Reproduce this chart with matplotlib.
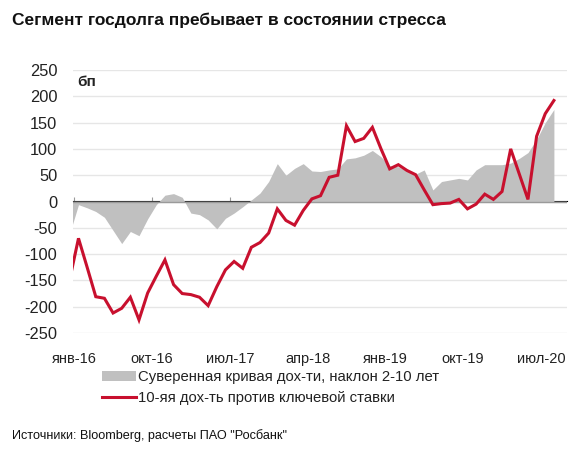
import matplotlib.pyplot as plt
import numpy as np
from matplotlib.patches import Patch
from matplotlib.lines import Line2D

plt.rcParams['font.family'] = ['Liberation Sans', 'DejaVu Sans']
plt.rcParams['axes.unicode_minus'] = False

# monthly observations, dec-15 .. aug-20 (mid-month), bp
months = np.arange(-1, 56) + 0.5

slope_2_10 = [-60, -6, -12, -19, -30, -55, -80, -57, -65, -33,
              -6, 12, 15, 8, -22, -25, -35, -52, -32, -22,
              -10, 3, 16, 38, 72, 50, 63, 72, 58, 57,
              60, 62, 81, 83, 88, 97, 85, 68, 66, 58,
              52, 60, 22, 38, 41, 44, 41, 60, 70, 70,
              70, 73, 82, 93, 118, 150, 175]

spread_10y_key = [-147, -70, -125, -181, -184, -212, -203, -182, -225, -174,
                  -142, -111, -158, -175, -177, -182, -198, -162, -130, -114,
                  -127, -87, -78, -60, -14, -36, -45, -17, 5, 11,
                  46, 50, 144, 114, 120, 141, 100, 62, 70, 59,
                  51, 22, -6, -4, -3, 4, -14, -5, 14, 4,
                  19, 100, 52, 4, 124, 167, 192]

tick_pos = [0, 9, 18, 27, 36, 45, 54]
tick_labels = ['янв-16', 'окт-16', 'июл-17', 'апр-18', 'янв-19', 'окт-19', 'июл-20']

label_gray = 'Суверенная кривая дох-ти, наклон 2-10 лет'
label_red = '10-яя дох-ть против ключевой ставки'

gray = '#c0c0c0'
red = '#c8102e'
txt = '#222222'

fig = plt.figure(figsize=(5.85, 4.71), dpi=100)
ax = fig.add_axes([72.7 / 585, 1 - 333 / 471, (567.3 - 72.7) / 585, 263 / 471])

ax.fill_between(months, 0, slope_2_10, color=gray, linewidth=0, zorder=2)
ax.plot(months, spread_10y_key, color=red, linewidth=2.2, zorder=4,
        solid_joinstyle='miter')

ax.set_xlim(-0.17, 57.05)
ax.set_ylim(-250, 250)
ax.set_yticks(np.arange(-250, 251, 50))
ax.yaxis.grid(True, color='#e6e6e6', linewidth=1)
ax.set_axisbelow(True)
ax.axhline(0, color='#9a9a9a', linewidth=1, zorder=3)

ax.set_xticks(tick_pos)
ax.set_xticklabels(tick_labels)
ax.tick_params(axis='x', length=0, pad=14, labelsize=10.5, labelcolor=txt)
ax.tick_params(axis='y', length=0, pad=11, labelsize=11.8, labelcolor=txt)
for s in ax.spines.values():
    s.set_visible(False)

# small tick marks on the zero line
sec = ax.secondary_xaxis(0.5)
sec.set_xticks(tick_pos)
sec.set_xticklabels([])
sec.tick_params(length=3, color='#9a9a9a', direction='out')
sec.spines['bottom'].set_visible(False)

ax.text(0.01, 0.955, 'бп', transform=ax.transAxes, fontsize=11,
        fontweight='bold', va='center', ha='left', color=txt)

handles = [Patch(facecolor=gray, edgecolor='none'),
           Line2D([], [], color=red, linewidth=2.2)]
fig.legend(handles, [label_gray, label_red], loc='upper left',
           bbox_to_anchor=(102 / 585, 1 - 370 / 471), frameon=False,
           fontsize=10.7, handlelength=2.3, handletextpad=0.15,
           labelspacing=0.5, borderpad=0, borderaxespad=0,
           labelcolor=txt)

fig.text(12 / 585, 1 - 20 / 471, 'Сегмент госдолга пребывает в состоянии стресса',
         fontsize=12.5, fontweight='bold', va='center', ha='left', color='#111111')
fig.text(12 / 585, 1 - 436 / 471, 'Источники: Bloomberg, расчеты ПАО "Росбанк"',
         fontsize=9.1, va='center', ha='left', color='#111111')

fig.savefig('out.png', dpi=100)
